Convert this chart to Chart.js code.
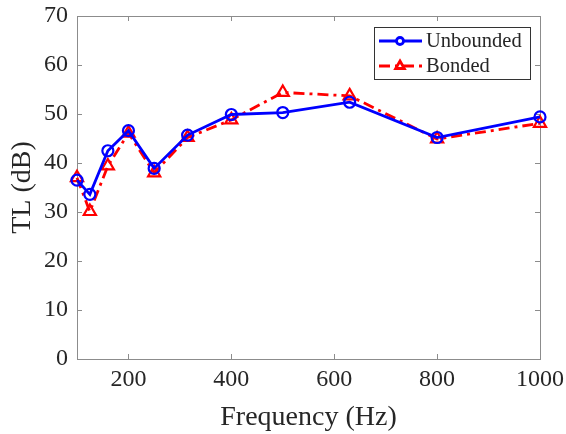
<!DOCTYPE html>
<html>
<head>
<meta charset="utf-8">
<script src="https://cdn.jsdelivr.net/npm/chart.js@4/dist/chart.umd.min.js"></script>
<style>
  html, body { margin: 0; padding: 0; background: #fff; }
  #wrap { width: 566px; height: 434px; }
</style>
</head>
<body>
<div id="wrap"><canvas id="chart_tl"></canvas></div>
<script>
// third-octave centre frequencies (Hz)
var freqs = [100, 125, 160, 200, 250, 315, 400, 500, 630, 800, 1000];
var unbounded = [36.5, 33.6, 42.5, 46.6, 38.9, 45.7, 49.9, 50.3, 52.4, 45.2, 49.4];
var bonded = [37.0, 30.1, 39.4, 46.1, 38.0, 45.2, 48.8, 54.4, 53.7, 44.9, 48.1];
var xTicks = [200, 400, 600, 800, 1000];
var yTicks = [0, 10, 20, 30, 40, 50, 60, 70];

var serif = "'Liberation Serif', 'Times New Roman', serif";
var axisGrey = '#8c8c8c';
var textColor = '#262626';

function pts(ys) {
    return freqs.map(function (f, i) { return { x: f, y: ys[i] }; });
}

// box around plot area with inward ticks (matlab style)
var boxPlugin = {
    id: 'boxPlugin',
    beforeDatasetsDraw: function (chart) {
        var ctx = chart.ctx, a = chart.chartArea;
        var xs = chart.scales.x, ys = chart.scales.y;
        ctx.save();
        ctx.strokeStyle = axisGrey;
        ctx.lineWidth = 1;
        ctx.strokeRect(a.left + 0.5, a.top + 0.5, a.right - a.left, a.bottom - a.top);
        ctx.beginPath();
        xTicks.forEach(function (v) {
            var px = Math.round(xs.getPixelForValue(v)) + 0.5;
            ctx.moveTo(px, a.bottom); ctx.lineTo(px, a.bottom - 5);
            ctx.moveTo(px, a.top); ctx.lineTo(px, a.top + 5);
        });
        yTicks.forEach(function (v) {
            var py = Math.round(ys.getPixelForValue(v)) + 0.5;
            ctx.moveTo(a.left, py); ctx.lineTo(a.left + 5, py);
            ctx.moveTo(a.right, py); ctx.lineTo(a.right - 5, py);
        });
        ctx.stroke();
        ctx.restore();
    }
};

// legend drawn inside the plot, top right, with a frame
var legendPlugin = {
    id: 'boxLegend',
    afterDraw: function (chart) {
        var ctx = chart.ctx;
        var bx = 374, by = 27, bw = 156, bh = 52;
        ctx.save();
        ctx.fillStyle = '#fff';
        ctx.fillRect(bx, by, bw, bh);
        ctx.strokeStyle = '#333';
        ctx.lineWidth = 1;
        ctx.strokeRect(bx + 0.5, by + 0.5, bw, bh);
        chart.data.datasets.forEach(function (ds, i) {
            var cy = by + 14 + i * 25;
            ctx.strokeStyle = ds.borderColor;
            ctx.lineWidth = ds.borderWidth;
            ctx.setLineDash(ds.borderDash || []);
            ctx.beginPath();
            ctx.moveTo(bx + 5, cy); ctx.lineTo(bx + 48, cy);
            ctx.stroke();
            ctx.setLineDash([]);
            ctx.fillStyle = '#fff';
            Chart.helpers.drawPoint(ctx, {
                pointStyle: ds.pointStyle,
                radius: ds.pointRadius - 2,
                borderWidth: ds.pointBorderWidth
            }, bx + 26, cy);
            ctx.fillStyle = textColor;
            ctx.font = '20.5px ' + serif;
            ctx.textBaseline = 'middle';
            ctx.fillText(ds.label, bx + 52, cy + 1);
        });
        ctx.restore();
    }
};

var chart_tl = new Chart(document.getElementById('chart_tl'), {
    type: 'line',
    data: {
        datasets: [
            {
                label: 'Unbounded',
                data: pts(unbounded),
                borderColor: '#0000ff',
                backgroundColor: 'rgba(0,0,0,0)',
                borderWidth: 2.8,
                pointStyle: 'circle',
                pointRadius: 5.5,
                pointBorderWidth: 2.2,
                pointBorderColor: '#0000ff',
                pointBackgroundColor: 'rgba(0,0,0,0)',
                clip: false
            },
            {
                label: 'Bonded',
                data: pts(bonded),
                borderColor: '#ff0000',
                backgroundColor: 'rgba(0,0,0,0)',
                borderWidth: 2.8,
                borderDash: [11, 5, 3, 5],
                pointStyle: 'triangle',
                pointRadius: 7,
                pointBorderWidth: 2.2,
                pointBorderColor: '#ff0000',
                pointBackgroundColor: 'rgba(0,0,0,0)',
                clip: false
            }
        ]
    },
    options: {
        animation: false,
        responsive: true,
        maintainAspectRatio: false,
        layout: { padding: { top: 16, right: 26, left: 0, bottom: 0 } },
        plugins: {
            legend: { display: false },
            tooltip: { enabled: false }
        },
        scales: {
            x: {
                type: 'linear',
                min: 100,
                max: 1000,
                afterBuildTicks: function (scale) {
                    scale.ticks = xTicks.map(function (v) { return { value: v }; });
                },
                afterFit: function (scale) {
                    scale.height = 75;
                    scale.paddingLeft = 0;
                    scale.paddingRight = 0;
                },
                grid: { display: false, drawTicks: false },
                border: { display: false },
                ticks: {
                    padding: 6,
                    maxRotation: 0,
                    color: textColor,
                    font: { family: serif, size: 24 },
                    callback: function (v) { return String(v); }
                },
                title: {
                    display: true,
                    text: 'Frequency (Hz)',
                    color: textColor,
                    font: { family: serif, size: 28 },
                    padding: { top: 0, bottom: 0 }
                }
            },
            y: {
                type: 'linear',
                min: 0,
                max: 70,
                afterBuildTicks: function (scale) {
                    scale.ticks = yTicks.map(function (v) { return { value: v }; });
                },
                afterFit: function (scale) {
                    scale.width = 77;
                    scale.paddingTop = 0;
                    scale.paddingBottom = 0;
                },
                grid: { display: false, drawTicks: false },
                border: { display: false },
                ticks: {
                    padding: 9,
                    color: textColor,
                    font: { family: serif, size: 24 }
                },
                title: {
                    display: true,
                    text: 'TL (dB)',
                    color: textColor,
                    font: { family: serif, size: 28 },
                    padding: { top: 6, bottom: 0 }
                }
            }
        }
    },
    plugins: [boxPlugin, legendPlugin]
});
</script>
</body>
</html>
